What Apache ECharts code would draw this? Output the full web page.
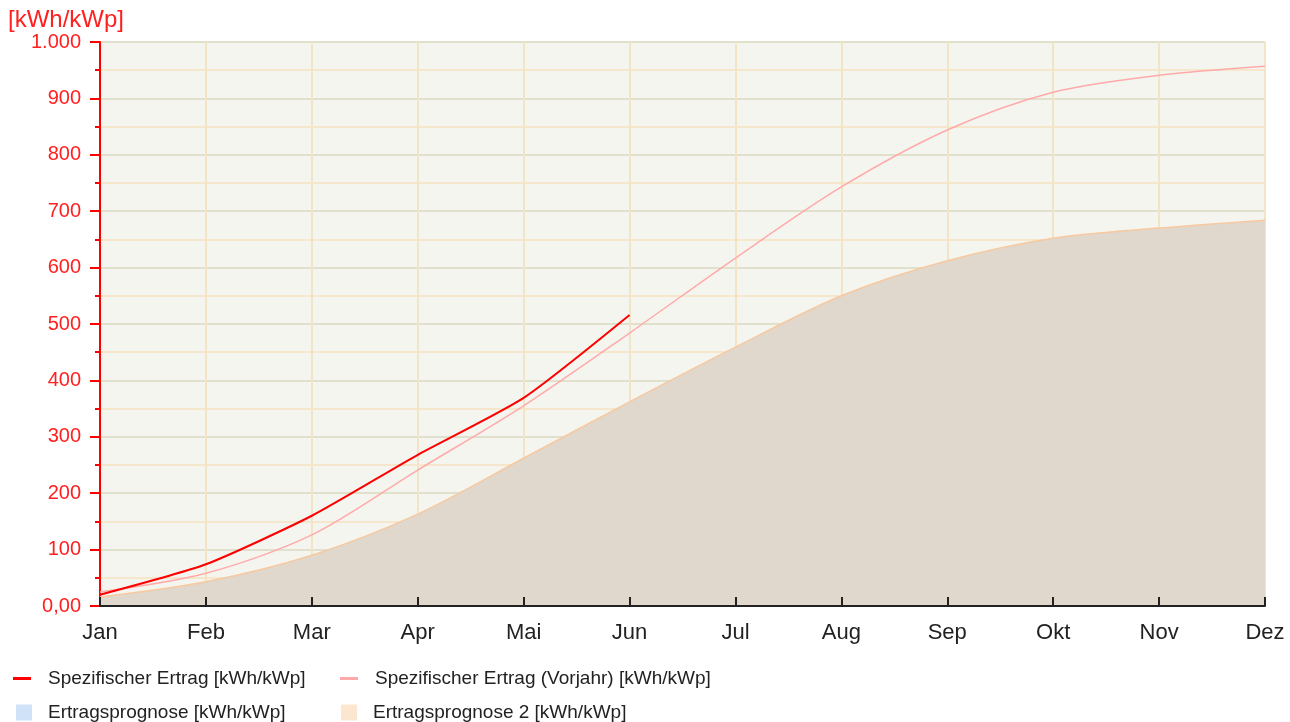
<!DOCTYPE html>
<html>
<head>
<meta charset="utf-8">
<script src="https://cdn.jsdelivr.net/npm/echarts@6/dist/echarts.min.js"></script>
<style>
html,body{margin:0;padding:0;background:#fff}
#main{width:1290px;height:722px}
</style>
</head>
<body>
<div id="main"></div>
<script>
var months = ['Jan','Feb','Mar','Apr','Mai','Jun','Jul','Aug','Sep','Okt','Nov','Dez']
var ertrag = [20,74,160,268,369,516]
var vorjahr = [25,58,126,241,355,484,617,743,844,911,941,957]
var prognose = []
var prognose2 = [16,43,90,163,262,362,459,550,612,652,670,684]

var names = ['Spezifischer Ertrag [kWh/kWp]','Spezifischer Ertrag (Vorjahr) [kWh/kWp]','Ertragsprognose [kWh/kWp]','Ertragsprognose 2 [kWh/kWp]']

function fmt(v){
    if (v == 0) return '0,00'
    if (v >= 1000) return Math.floor(v/1000) + '.' + ('00' + (v%1000)).slice(-3)
    return '' + v
}

var myChart = echarts.init(document.getElementById('main'));

function leg(name, left, top, line){
    return {
        data: [name],
        left: left,
        top: top,
        icon: 'rect',
        itemWidth: line ? 18 : 16,
        itemHeight: line ? 3 : 16,
        itemGap: 0,
        selectedMode: false,
        textStyle: {fontFamily: 'Liberation Sans', fontSize: 19, color: '#222', padding: [0,0,0,line ? 12 : 11]}
    }
}

var option = {
    backgroundColor: '#fff',
    textStyle: {fontFamily: 'Liberation Sans'},
    animation: false,
    legend: [
        leg(names[0], 8, 664, true),
        leg(names[1], 335, 664, true),
        leg(names[2], 11, 698, false),
        leg(names[3], 336, 698, false)
    ],
    grid: {
        left: 100,
        right: 25,
        top: 42,
        bottom: 116,
        show: true,
        backgroundColor: '#f5f5ef',
        borderWidth: 0
    },
    xAxis: [
        {
            type: 'category',
            boundaryGap: false,
            data: months,
            axisLine: {show: false},
            axisTick: {show: false},
            axisLabel: {color: '#222', fontSize: 22, margin: 16},
            splitLine: {show: true, lineStyle: {color: '#f3e4c6', width: 2}}
        },
        {
            // ticks and base line drawn above the area
            type: 'category',
            position: 'bottom',
            boundaryGap: false,
            data: months,
            z: 10,
            axisLine: {show: true, onZero: false, lineStyle: {color: '#222', width: 2}},
            axisTick: {show: true, inside: true, length: 9, lineStyle: {color: '#222', width: 2}},
            axisLabel: {show: false},
            splitLine: {show: false}
        }
    ],
    yAxis: {
        type: 'value',
        min: 0,
        max: 1000,
        interval: 100,
        name: '[kWh/kWp]',
        nameLocation: 'end',
        nameGap: 10,
        nameTextStyle: {color: '#ff2020', fontSize: 24, align: 'left', padding: [0,0,0,-92]},
        axisLine: {show: true, lineStyle: {color: '#ff0000', width: 2}},
        axisTick: {show: true, length: 10, lineStyle: {color: '#ff0000', width: 2}},
        minorTick: {show: true, splitNumber: 2, length: 5, lineStyle: {color: '#ff0000', width: 2}},
        axisLabel: {color: '#ff2020', fontSize: 20, margin: 19, formatter: fmt},
        splitLine: {show: true, lineStyle: {color: '#e0e0cc', width: 2}},
        minorSplitLine: {show: true, lineStyle: {color: '#f5e6cc', width: 2}}
    },
    series: [
        {
            name: names[3],
            type: 'line',
            data: prognose2,
            smooth: 0.3,
            showSymbol: false,
            itemStyle: {color: '#fde6cf'},
            lineStyle: {color: '#f7c9a0', width: 1.5},
            areaStyle: {color: '#e0d7cd', opacity: 1},
            z: 1
        },
        {
            name: names[2],
            type: 'line',
            data: prognose,
            showSymbol: false,
            itemStyle: {color: '#cfe2f7'},
            areaStyle: {color: '#cfe2f7'}
        },
        {
            name: names[1],
            type: 'line',
            data: vorjahr,
            smooth: 0.3,
            showSymbol: false,
            itemStyle: {color: '#ffaaaa'},
            lineStyle: {color: '#ffaaaa', width: 1.5},
            z: 3
        },
        {
            name: names[0],
            type: 'line',
            data: ertrag,
            smooth: 0.2,
            showSymbol: false,
            itemStyle: {color: '#ff0000'},
            lineStyle: {color: '#ff0000', width: 2},
            z: 4
        }
    ]
};
myChart.setOption(option);
</script>
</body>
</html>
